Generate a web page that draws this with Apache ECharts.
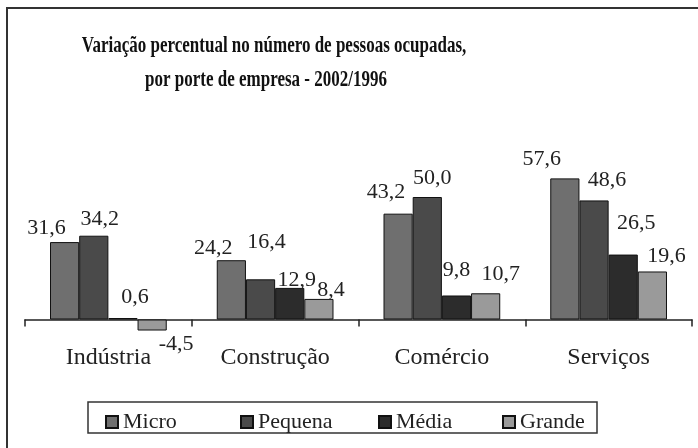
<!DOCTYPE html>
<html>
<head>
<meta charset="utf-8">
<script src="https://cdn.jsdelivr.net/npm/echarts@6/dist/echarts.min.js"></script>
<style>
  html, body { margin: 0; padding: 0; background: #fff; }
  #main { width: 698px; height: 448px; }
</style>
</head>
<body>
<div id="main"></div>
<script>
var categories = ['Indústria', 'Construção', 'Comércio', 'Serviços'];
var micro = [31.6, 24.2, 43.2, 57.6];
var pequena = [34.2, 16.4, 50.0, 48.6];
var media = [0.6, 12.9, 9.8, 26.5];
var grande = [-4.5, 8.4, 10.7, 19.6];
var seriesNames = ['Micro', 'Pequena', 'Média', 'Grande'];

var FONT = '"Liberation Serif", "DejaVu Serif", serif';

// label nudges, the labels sit a bit off the bars like in the original sheet
var nudge = [
    [[-18, 2], [-18, 4], [-12, -5], [-23, -3]],
    [[6, 0], [6, -21], [5, -3], [13, -4]],
    [[12, -5], [7, 8], [0, -9], [13, -15]],
    [[24, -2], [12, 7], [15, -3], [14, 1]]
];
var colors = ['#6f6f6f', '#4a4a4a', '#2c2c2c', '#9a9a9a'];
var legendLeft = [100, 235, 373, 497];

function makeSeries(idx, values) {
    return {
        name: seriesNames[idx],
        type: 'bar',
        barGap: '0%',
        barCategoryGap: '30%',
        itemStyle: { color: colors[idx], borderColor: '#111', borderWidth: 1 },
        label: {
            show: true,
            fontFamily: FONT,
            fontSize: 22,
            color: '#222',
            distance: 5,
            formatter: function (p) {
                return p.value.toFixed(1).replace('.', ',');
            }
        },
        data: values.map(function (v, i) {
            return {
                value: v,
                label: { position: v < 0 ? 'bottom' : 'top', offset: nudge[idx][i] }
            };
        })
    };
}

// one legend per item so the spacing can follow the original box
var legends = seriesNames.map(function (name, i) {
    return {
        left: legendLeft[i],
        top: 406,
        itemWidth: 12,
        itemHeight: 12,
        icon: 'rect',
        textStyle: { fontFamily: FONT, fontSize: 22, color: '#222' },
        data: [name]
    };
});

var chart = echarts.init(document.getElementById('main'));
chart.setOption({
    animation: false,
    backgroundColor: '#fff',
    grid: { left: 25, right: 6, top: 148, height: 196 },
    xAxis: {
        type: 'category',
        data: categories,
        axisLine: { onZero: true, lineStyle: { color: '#222', width: 1.5 } },
        axisTick: { show: true, length: 7, lineStyle: { color: '#222', width: 1.5 } },
        axisLabel: { fontFamily: FONT, fontSize: 24, color: '#222', margin: 2 }
    },
    yAxis: {
        type: 'value',
        min: -10,
        max: 70,
        show: false
    },
    legend: legends,
    graphic: [
        {
            type: 'rect',
            shape: { x: 7, y: 8, width: 720, height: 470 },
            style: { fill: 'none', stroke: '#333', lineWidth: 2 },
            silent: true
        },
        {
            type: 'rect',
            shape: { x: 88, y: 402, width: 509, height: 31 },
            style: { fill: 'none', stroke: '#333', lineWidth: 1.5 },
            silent: true
        },
        {
            type: 'text',
            x: 274, y: 46, scaleY: 1.4,
            style: { text: 'Variação percentual no número de pessoas ocupadas,', fontFamily: FONT, fontWeight: 'bold', fontSize: 17, fill: '#111', align: 'center', verticalAlign: 'middle' }
        },
        {
            type: 'text',
            x: 266, y: 80, scaleY: 1.4,
            style: { text: 'por porte de empresa - 2002/1996', fontFamily: FONT, fontWeight: 'bold', fontSize: 17, fill: '#111', align: 'center', verticalAlign: 'middle' }
        }
    ],
    series: [
        makeSeries(0, micro),
        makeSeries(1, pequena),
        makeSeries(2, media),
        makeSeries(3, grande)
    ]
});
</script>
</body>
</html>
